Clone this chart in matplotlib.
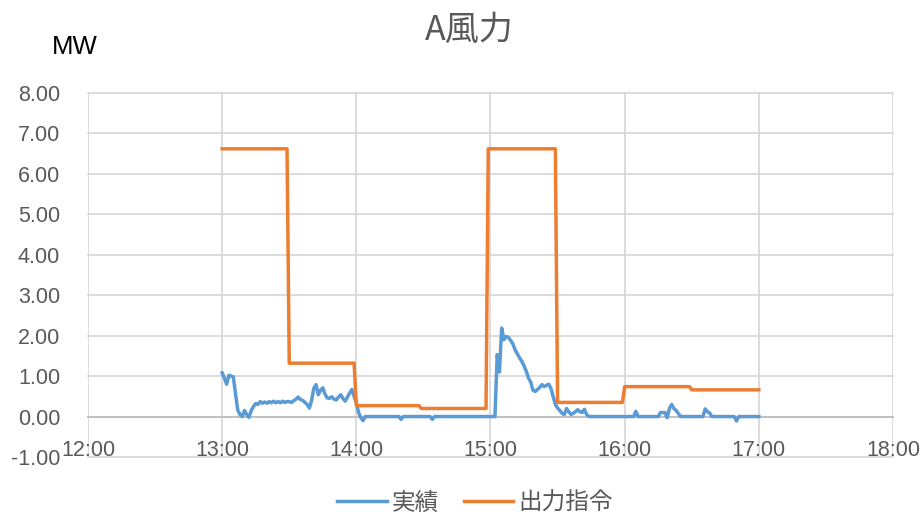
import matplotlib
matplotlib.use("Agg")
import matplotlib.pyplot as plt

# ---- data -------------------------------------------------------------
title = "A風力"
unit_label = "MW"
series_names = ["実績", "出力指令"]
x_tick_labels = ["12:00", "13:00", "14:00", "15:00", "16:00", "17:00", "18:00"]
y_tick_values = [-1, 0, 1, 2, 3, 4, 5, 6, 7, 8]
y_tick_labels = ["-1.00", "0.00", "1.00", "2.00", "3.00", "4.00",
                 "5.00", "6.00", "7.00", "8.00"]

# measured output (実績)
actual_times = [
    "13:00", "13:01", "13:02", "13:03", "13:04", "13:05", "13:06", "13:07",
    "13:08", "13:09", "13:10", "13:11", "13:12", "13:13", "13:14", "13:15",
    "13:16", "13:17", "13:18", "13:19", "13:20", "13:21", "13:22", "13:23",
    "13:24", "13:25", "13:26", "13:27", "13:28", "13:29", "13:30", "13:31",
    "13:32", "13:33", "13:34", "13:35", "13:36", "13:37", "13:38", "13:39",
    "13:40", "13:41", "13:42", "13:43", "13:44", "13:45", "13:46", "13:47",
    "13:48", "13:49", "13:50", "13:51", "13:52", "13:53", "13:54", "13:55",
    "13:56", "13:57", "13:58", "13:59", "14:00", "14:01", "14:02", "14:03",
    "14:04", "14:19", "14:20", "14:21", "14:33", "14:34", "14:35", "15:02",
    "15:03", "15:04", "15:05", "15:06", "15:07", "15:08", "15:09", "15:10",
    "15:11", "15:12", "15:13", "15:14", "15:15", "15:16", "15:17", "15:18",
    "15:19", "15:20", "15:21", "15:22", "15:23", "15:24", "15:25", "15:26",
    "15:27", "15:28", "15:29", "15:30", "15:31", "15:32", "15:33", "15:34",
    "15:35", "15:36", "15:37", "15:38", "15:39", "15:40", "15:41", "15:42",
    "15:43", "15:44", "16:04", "16:05", "16:06", "16:15", "16:16", "16:18",
    "16:19", "16:20", "16:21", "16:22", "16:23", "16:25", "16:35", "16:36",
    "16:37", "16:38", "16:39", "16:49", "16:50", "16:51", "17:00",
]
actual_mw = [
    1.08, 0.95, 0.80, 1.02, 1.00, 0.98, 0.55, 0.15,
    0.05, 0.00, 0.15, 0.05, -0.02, 0.15, 0.25, 0.32,
    0.30, 0.37, 0.33, 0.36, 0.33, 0.37, 0.34, 0.38,
    0.34, 0.37, 0.34, 0.38, 0.35, 0.37, 0.37, 0.35,
    0.39, 0.43, 0.48, 0.42, 0.40, 0.35, 0.30, 0.21,
    0.40, 0.70, 0.79, 0.54, 0.65, 0.71, 0.55, 0.46,
    0.45, 0.49, 0.43, 0.41, 0.48, 0.54, 0.45, 0.38,
    0.48, 0.58, 0.67, 0.50, 0.34, 0.10, -0.03, -0.10,
    0.00, 0.00, -0.07, 0.00, 0.00, -0.07, 0.00, 0.00,
    1.53, 1.10, 2.19, 1.90, 1.98, 1.96, 1.88, 1.80,
    1.65, 1.55, 1.45, 1.37, 1.25, 1.12, 0.95, 0.85,
    0.65, 0.62, 0.67, 0.72, 0.79, 0.74, 0.77, 0.80,
    0.70, 0.50, 0.30, 0.21, 0.15, 0.08, 0.05, 0.20,
    0.12, 0.05, 0.08, 0.12, 0.17, 0.12, 0.10, 0.18,
    0.05, 0.00, 0.00, 0.13, 0.00, 0.00, 0.10, 0.10,
    -0.03, 0.20, 0.30, 0.20, 0.15, 0.00, 0.00, 0.19,
    0.12, 0.09, 0.00, 0.00, -0.11, 0.00, 0.00,
]

# dispatch command (出力指令)
command_times = [
    "13:00", "13:29", "13:30", "13:59", "14:00", "14:28", "14:29", "14:58",
    "14:59", "15:29", "15:30", "15:59", "16:00", "16:29", "16:30", "17:00",
]
command_mw = [
    6.62, 6.62, 1.32, 1.32, 0.27, 0.27, 0.20, 0.20,
    6.62, 6.62, 0.35, 0.35, 0.74, 0.74, 0.66, 0.66,
]


def to_hours(s):
    h, m = s.split(":")
    return int(h) + int(m) / 60.0


# ---- styling ----------------------------------------------------------
LATIN = ["Liberation Sans", "Noto Sans CJK JP"]
CJK = ["Noto Sans CJK JP", "Liberation Sans"]
plt.rcParams["font.family"] = LATIN

TEXT_GREY = "#595959"
GRID_GREY = "#D6D6D6"
AXIS_GREY = "#BFBFBF"
BLUE = "#5B9BD5"
ORANGE = "#ED7D31"

fig = plt.figure(figsize=(9.23, 5.17), dpi=100)
ax = fig.add_axes([88 / 923, 60 / 517, 805 / 923, 364 / 517])

x_ticks = [to_hours(t) for t in x_tick_labels]

ax.plot([to_hours(t) for t in actual_times], actual_mw,
        color=BLUE, lw=2.5, solid_joinstyle="round", label=series_names[0],
        zorder=3)
ax.plot([to_hours(t) for t in command_times], command_mw,
        color=ORANGE, lw=2.5, solid_joinstyle="round", label=series_names[1],
        zorder=4)

ax.set_xlim(x_ticks[0], x_ticks[-1])
ax.set_ylim(y_tick_values[0], y_tick_values[-1])

ax.set_xticks(x_ticks)
ax.set_xticklabels(x_tick_labels)
ax.set_yticks(y_tick_values)
ax.set_yticklabels(y_tick_labels)

ax.grid(True, color=GRID_GREY, lw=1.2)
ax.set_axisbelow(True)
for gl in ax.get_xgridlines() + ax.get_ygridlines():
    gl.set_clip_on(False)

for side in ("left", "right", "top"):
    ax.spines[side].set_visible(False)
ax.spines["bottom"].set_position(("data", 0))
ax.spines["bottom"].set_color(AXIS_GREY)
ax.spines["bottom"].set_linewidth(1.3)
ax.spines["bottom"].set_zorder(2)

ax.tick_params(axis="x", length=0, pad=17, labelsize=15.5, labelcolor=TEXT_GREY)
ax.tick_params(axis="y", length=0, pad=20, labelsize=15.5, labelcolor=TEXT_GREY)

fig.text(469 / 923, 1 - 30 / 517, title, ha="center", va="center",
         fontsize=24.5, color=TEXT_GREY, family=CJK)
fig.text(52 / 923, 1 - 47 / 517, unit_label, ha="left", va="center",
         fontsize=18.5, color="#000000")

leg = fig.legend(loc="center", bbox_to_anchor=(475 / 923, 1 - 503 / 517),
                 ncol=2, frameon=False, prop={"family": CJK, "size": 17},
                 handlelength=2.1, handletextpad=0.2, columnspacing=1.05,
                 labelcolor=TEXT_GREY, borderaxespad=0, borderpad=0)

fig.savefig("out.png", dpi=100)
